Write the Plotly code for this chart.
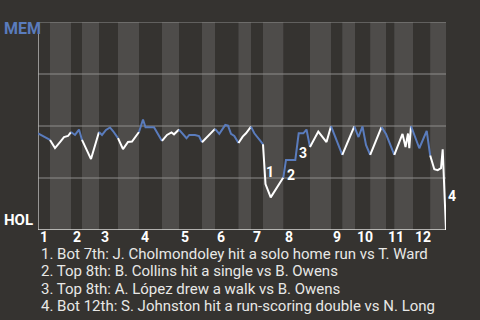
import plotly.graph_objects as go

# ---- data (x = game progress units, wp = MEM win probability %) ----
x_prog = [0, 7, 12, 17, 22, 26, 30, 33, 37, 41, 44, 53, 61, 64, 68, 72, 75, 80, 85, 90, 94, 101,
          105, 107.5, 116, 124, 129, 133.5, 136, 141, 148.5, 151.3, 157, 161, 164, 170.7, 175.3, 177,
          181.3, 187.3, 190, 193, 196.3, 200.5, 204.7, 208, 213, 216.3, 223, 225, 227.5, 232.7, 245.3,
          248, 257.3, 260.7, 265.3, 268.5, 272, 275, 280.3, 288.5, 293, 304.3, 316.3, 320.5, 324.5, 328,
          332.2, 343.5, 348, 356.3, 364.5, 367.5, 370, 371.3, 373, 381.3, 388.7, 392.2, 396.3, 399.7,
          403, 404.7, 405.7, 406.5, 408]
wp = [46.5, 44.7, 43.3, 39.4, 42.3, 44.7, 45.2, 47.1, 45.7, 48.3, 43.3, 34.1, 47.1, 45.7, 48.1, 49.3,
      47.6, 44.2, 38.9, 42.3, 42.5, 47.1, 53.1, 49.4, 49.4, 42.8, 45.7, 46.9, 46.0, 48.3, 44.1, 45.7,
      45.7, 45.2, 42.2, 45.7, 47.7, 48.6, 46.2, 50.5, 50.2, 46.2, 45.2, 41.8, 44.9, 46.5, 49.7, 46.5,
      42.5, 41.2, 22.1, 15.7, 25.2, 33.7, 33.7, 46.5, 46.5, 48.3, 39.9, 42.5, 47.3, 42.3, 49.9, 36.1,
      49.8, 44.7, 49.8, 40.9, 36.1, 49.5, 46.2, 36.1, 46.2, 39.9, 46.4, 39.4, 50.0, 39.3, 47.7, 35.8,
      29.2, 28.8, 29.7, 38.8, 28.8, 20.2, 0.0]

# half-inning boundaries (top/bottom alternating, starting with top of 1st)
half_bounds = [0, 12, 33, 44, 61, 80, 101, 124, 141, 164, 177, 200.5, 213, 225, 245.3, 272, 293,
               304.3, 316.3, 332.2, 343.5, 356.3, 373, 392.2, 408]
# background band edges (top/bottom halves)
band_bounds = [0, 12, 33, 44, 61, 80, 101, 124, 141, 164, 177, 200.5, 213, 225, 245.3, 272, 293,
               304.3, 317, 332.2, 348, 356.3, 375, 392.2, 408]
inning_labels = [str(i) for i in range(1, 13)]

# key events: index of the line point where the event starts
event_marks = ["1", "2", "3", "4"]
event_start_idx = [49, 52, 54, 85]
notes = [
    "1. Bot 7th: J. Cholmondoley hit a solo home run vs T. Ward",
    "2. Top 8th: B. Collins hit a single vs B. Owens",
    "3. Top 8th: A. López drew a walk vs B. Owens",
    "4. Bot 12th: S. Johnston hit a run-scoring double vs N. Long",
]
team_top, team_bottom = "MEM", "HOL"

# ---- style ----
BG = "#353330"
STRIPE = "#4e4c4a"
GRID = "#8e8d8b"
BLUE = "#5a7cbd"
WHITE = "#ffffff"
FONT = "Roboto"

W, H = 480, 320
L, R, T, B = 38, 446, 22, 230
xdom = [L / W, R / W]
ydom = [(H - B) / H, (H - T) / H]

fig = go.Figure()

shapes = []
# bottom-half stripes
for i in range(len(band_bounds) - 1):
    if i % 2 == 1:
        shapes.append(dict(type="rect", xref="x", yref="y", x0=band_bounds[i], x1=band_bounds[i + 1],
                           y0=0, y1=100, fillcolor=STRIPE, line_width=0, layer="below"))
# horizontal grid lines
for g in [25, 50, 75, 100]:
    shapes.append(dict(type="line", xref="x", yref="y", x0=0, x1=half_bounds[-1], y0=g, y1=g,
                       line=dict(color=GRID, width=1), layer="below"))
# left axis and bottom baseline
shapes.append(dict(type="line", xref="x", yref="y", x0=0, x1=0, y0=0, y1=100,
                   line=dict(color="#b8b8b6", width=1.5), layer="below"))
shapes.append(dict(type="line", xref="x", yref="y", x0=0, x1=half_bounds[-1], y0=0, y1=0,
                   line=dict(color="#d8d8d6", width=1.5), layer="below"))

# line split per half inning
for i in range(len(half_bounds) - 1):
    a, b = half_bounds[i], half_bounds[i + 1]
    xs = [x for x in x_prog if a <= x <= b]
    ys = [wp[k] for k, x in enumerate(x_prog) if a <= x <= b]
    fig.add_trace(go.Scatter(x=xs, y=ys, mode="lines",
                             line=dict(color=BLUE if i % 2 == 0 else WHITE, width=2),
                             hoverinfo="skip", showlegend=False))

annotations = []
# event markers
shifts = [(6, -8), (6, -6), (6, -6), (7, 13)]
for m, k, (dx, dy) in zip(event_marks, event_start_idx, shifts):
    xm = (x_prog[k] + x_prog[k + 1]) / 2
    ym = (wp[k] + wp[k + 1]) / 2
    annotations.append(dict(x=xm, y=ym, xref="x", yref="y", text=f"<b>{m}</b>", showarrow=False,
                            xshift=dx, yshift=dy, font=dict(family=FONT, size=14, color=WHITE)))
# inning labels
for j, lab in enumerate(inning_labels):
    annotations.append(dict(x=band_bounds[2 * j], y=(H - 237) / H, xref="x", yref="paper",
                            text=f"<b>{lab}</b>", showarrow=False, xanchor="left", yanchor="middle",
                            font=dict(family=FONT, size=14, color=WHITE)))
# team labels
annotations.append(dict(x=2 / W, y=(H - 28) / H, xref="paper", yref="paper", text=f"<b>{team_top}</b>",
                        showarrow=False, xanchor="left", yanchor="middle",
                        font=dict(family=FONT, size=16, color=BLUE)))
annotations.append(dict(x=2 / W, y=(H - 220) / H, xref="paper", yref="paper", text=f"<b>{team_bottom}</b>",
                        showarrow=False, xanchor="left", yanchor="middle",
                        font=dict(family=FONT, size=15, color=WHITE)))
# notes
for n, txt in enumerate(notes):
    annotations.append(dict(x=39 / W, y=(H - (253.5 + 17.6 * n)) / H, xref="paper", yref="paper",
                            text=txt, showarrow=False, xanchor="left", yanchor="middle",
                            font=dict(family=FONT, size=15, color="#e8e8e6")))

fig.update_layout(
    width=W, height=H, margin=dict(l=0, r=0, t=0, b=0),
    paper_bgcolor=BG, plot_bgcolor=BG,
    xaxis=dict(domain=xdom, range=[0, half_bounds[-1]], showgrid=False, zeroline=False,
               showticklabels=False, fixedrange=True),
    yaxis=dict(domain=ydom, range=[0, 100], showgrid=False, zeroline=False,
               showticklabels=False, fixedrange=True),
    shapes=shapes, annotations=annotations, showlegend=False,
)

fig.write_html("out.html", config={"displayModeBar": False})
